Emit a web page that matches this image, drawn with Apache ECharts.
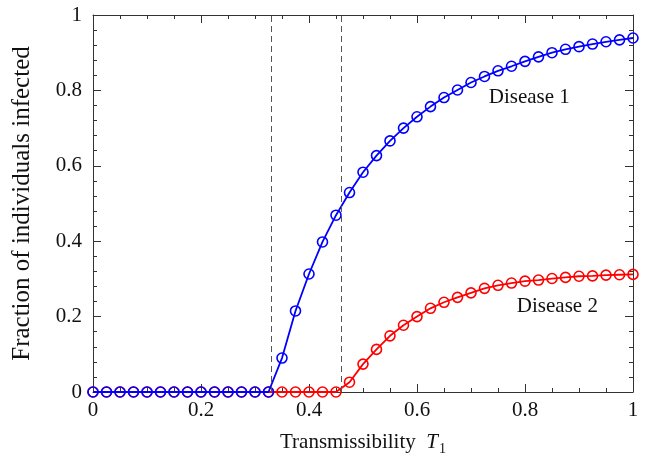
<!DOCTYPE html>
<html>
<head>
<meta charset="utf-8">
<script src="https://cdn.jsdelivr.net/npm/echarts@6/dist/echarts.min.js"></script>
<style>
  html, body { margin: 0; padding: 0; background: #fff; }
  #chart { width: 645px; height: 465px; }
</style>
</head>
<body>
<div id="chart"></div>
<script>
// transmissibility values (x)
const tValues = [
  0, 0.025, 0.05, 0.075, 0.1, 0.125, 0.15, 0.175, 0.2, 0.225,
  0.25, 0.275, 0.3, 0.325, 0.35, 0.375, 0.4, 0.425, 0.45, 0.475,
  0.5, 0.525, 0.55, 0.575, 0.6, 0.625, 0.65, 0.675, 0.7, 0.725,
  0.75, 0.775, 0.8, 0.825, 0.85, 0.875, 0.9, 0.925, 0.95, 0.975, 1
]
const disease1 = [
  0, 0, 0, 0, 0, 0, 0, 0, 0, 0,
  0, 0, 0, 0, 0.09, 0.215, 0.313, 0.398, 0.469, 0.529,
  0.583, 0.627, 0.666, 0.700, 0.730, 0.757, 0.781, 0.801, 0.821, 0.837,
  0.852, 0.864, 0.877, 0.889, 0.900, 0.909, 0.916, 0.923, 0.929, 0.934, 0.939
]
const disease2 = [
  0, 0, 0, 0, 0, 0, 0, 0, 0, 0,
  0, 0, 0, 0, 0, 0, 0, 0, 0, 0.026,
  0.074, 0.113, 0.149, 0.177, 0.200, 0.222, 0.238, 0.251, 0.263, 0.275,
  0.283, 0.289, 0.294, 0.297, 0.301, 0.304, 0.307, 0.308, 0.310, 0.311, 0.312
]
// thresholds (dashed lines)
const thresholds = [0.333, 0.4625]
const labels = [
  { name: 'Disease 1', coord: [0.808, 0.78] },
  { name: 'Disease 2', coord: [0.86, 0.228] }
]

const font = 'Liberation Serif, Times New Roman, serif'
const axisColor = '#333'

function frameAxis(position, showLabel, extra) {
  return Object.assign({
    type: 'value',
    position: position,
    min: 0,
    max: 1,
    interval: 0.2,
    axisLine: { show: true, onZero: false, lineStyle: { color: axisColor, width: 1 } },
    axisTick: { show: true, inside: true, length: 8, lineStyle: { color: axisColor } },
    splitLine: { show: false },
    axisLabel: {
      show: showLabel,
      color: '#111',
      fontFamily: font,
      fontSize: 21,
      margin: (position === 'left') ? 11 : 8
    }
  }, extra)
}

const chart = echarts.init(document.getElementById('chart'))
chart.setOption({
  animation: false,
  grid: { left: 93, right: 12, top: 15, bottom: 73, containLabel: false },
  xAxis: [
    frameAxis('bottom', true, {
      minorTick: { show: true, splitNumber: 4, length: 4, lineStyle: { color: axisColor } },
      name: 'Transmissibility  {i|T}{s|1}',
      nameLocation: 'middle',
      nameGap: 37,
      nameTextStyle: {
        color: '#111',
        fontFamily: font,
        fontSize: 21,
        rich: {
          i: { fontFamily: font, fontSize: 21, fontStyle: 'italic', color: '#111' },
          s: { fontFamily: font, fontSize: 14, color: '#111', verticalAlign: 'bottom', padding: [13, 0, 0, 1] }
        }
      }
    }),
    frameAxis('top', false, {
      minorTick: { show: true, splitNumber: 4, length: 4, lineStyle: { color: axisColor } }
    })
  ],
  yAxis: [
    frameAxis('left', true, {
      minorTick: { show: true, splitNumber: 5, length: 4, lineStyle: { color: axisColor } },
      name: 'Fraction of individuals infected',
      nameLocation: 'middle',
      nameGap: 58,
      nameTextStyle: { color: '#111', fontFamily: font, fontSize: 25 }
    }),
    frameAxis('right', false, {
      minorTick: { show: true, splitNumber: 5, length: 4, lineStyle: { color: axisColor } }
    })
  ],
  series: [
    {
      name: 'Disease 2',
      type: 'line',
      data: tValues.map((t, i) => [t, disease2[i]]),
      symbol: 'circle',
      symbolSize: 10,
      showAllSymbol: true,
      lineStyle: { color: '#ff0000', width: 1.8 },
      itemStyle: { color: 'transparent', borderColor: '#ff0000', borderWidth: 1.6 },
      z: 2,
      markPoint: {
        symbol: 'circle',
        symbolSize: 0,
        label: { show: true, formatter: '{b}', color: '#111', fontFamily: font, fontSize: 21 },
        data: [{ name: labels[1].name, coord: labels[1].coord }]
      }
    },
    {
      name: 'Disease 1',
      type: 'line',
      data: tValues.map((t, i) => [t, disease1[i]]),
      symbol: 'circle',
      symbolSize: 10,
      showAllSymbol: true,
      lineStyle: { color: '#0000ff', width: 1.8 },
      itemStyle: { color: 'transparent', borderColor: '#0000ff', borderWidth: 1.6 },
      z: 3,
      markPoint: {
        symbol: 'circle',
        symbolSize: 0,
        label: { show: true, formatter: '{b}', color: '#111', fontFamily: font, fontSize: 21 },
        data: [{ name: labels[0].name, coord: labels[0].coord }]
      },
      markLine: {
        symbol: 'none',
        silent: true,
        label: { show: false },
        lineStyle: { color: '#555', type: [6, 4], width: 1 },
        data: thresholds.map(x => ({ xAxis: x }))
      }
    }
  ]
})
</script>
</body>
</html>
